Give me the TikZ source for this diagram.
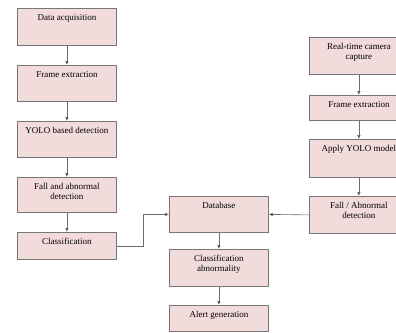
\documentclass[tikz,border=0pt]{standalone}
\usepackage{fontspec}
\setmainfont{Liberation Serif}
\usetikzlibrary{positioning,calc,arrows.meta}
\definecolor{stagefill}{HTML}{F2DCDB}
\definecolor{stageline}{HTML}{767676}
\newcommand{\stagetext}[2]{\parbox[t][#1][t]{99pt}{\centering\vspace*{4.6pt}\strut #2}}

\begin{document}
\begin{tikzpicture}[x=1pt,y=-1pt,
    every node/.append style={font=\fontsize{9}{10.5}\selectfont},
    stage/.style={draw=stageline, fill=stagefill, line width=.8pt,
                  inner sep=0pt, anchor=north west},
    flow/.style={draw=gray!85!black, line width=.6pt,
                 -{Latex[length=4pt,width=3.6pt,fill=black]}}]
  \useasboundingbox (0,0) rectangle (396,332);
  % recorded video pipeline
  \node[stage] (acq)   at (17,8)    {\stagetext{37pt}{Data acquisition}};
  \node[stage] (frm)   at (17,65)   {\stagetext{36pt}{Frame extraction}};
  \node[stage] (yolo)  at (17,121)  {\stagetext{36pt}{YOLO based detection}};
  \node[stage] (fall)  at (17,177)  {\stagetext{35pt}{Fall and abnormal\\detection}};
  \node[stage] (cls)   at (17,232)  {\stagetext{27pt}{Classification}};
  % shared stages
  \node[stage] (db)    at (169,196) {\stagetext{36pt}{Database}};
  \node[stage] (clsab) at (169,249) {\stagetext{37pt}{Classification\\abnormality}};
  \node[stage] (alert) at (169,305) {\stagetext{26pt}{Alert generation}};
  % live camera pipeline
  \node[stage] (cam)   at (309,37)  {\stagetext{37pt}{Real-time camera\\capture}};
  \node[stage] (frmrt) at (309,95)  {\stagetext{25pt}{Frame extraction}};
  \node[stage] (apply) at (309,139) {\stagetext{38pt}{Apply YOLO model}};
  \node[stage] (fallrt) at (309,196) {\stagetext{37pt}{Fall / Abnormal\\detection}};

  \draw[flow] (acq) -- (frm);
  \draw[flow] (frm) -- (yolo);
  \draw[flow] (yolo) -- (fall);
  \draw[flow] (fall) -- (cls);
  \draw[flow] (cls.east) -| ($(cls.east)!.5!(db.west)$) |- (db.west);
  \draw[flow] (db) -- (clsab);
  \draw[flow] (clsab) -- (alert);
  \draw[flow] (cam) -- (frmrt);
  \draw[flow] (frmrt) -- (apply);
  \draw[flow] (apply) -- (fallrt);
  \draw[flow] (fallrt.west) -- (db.east);
\end{tikzpicture}
\end{document}
